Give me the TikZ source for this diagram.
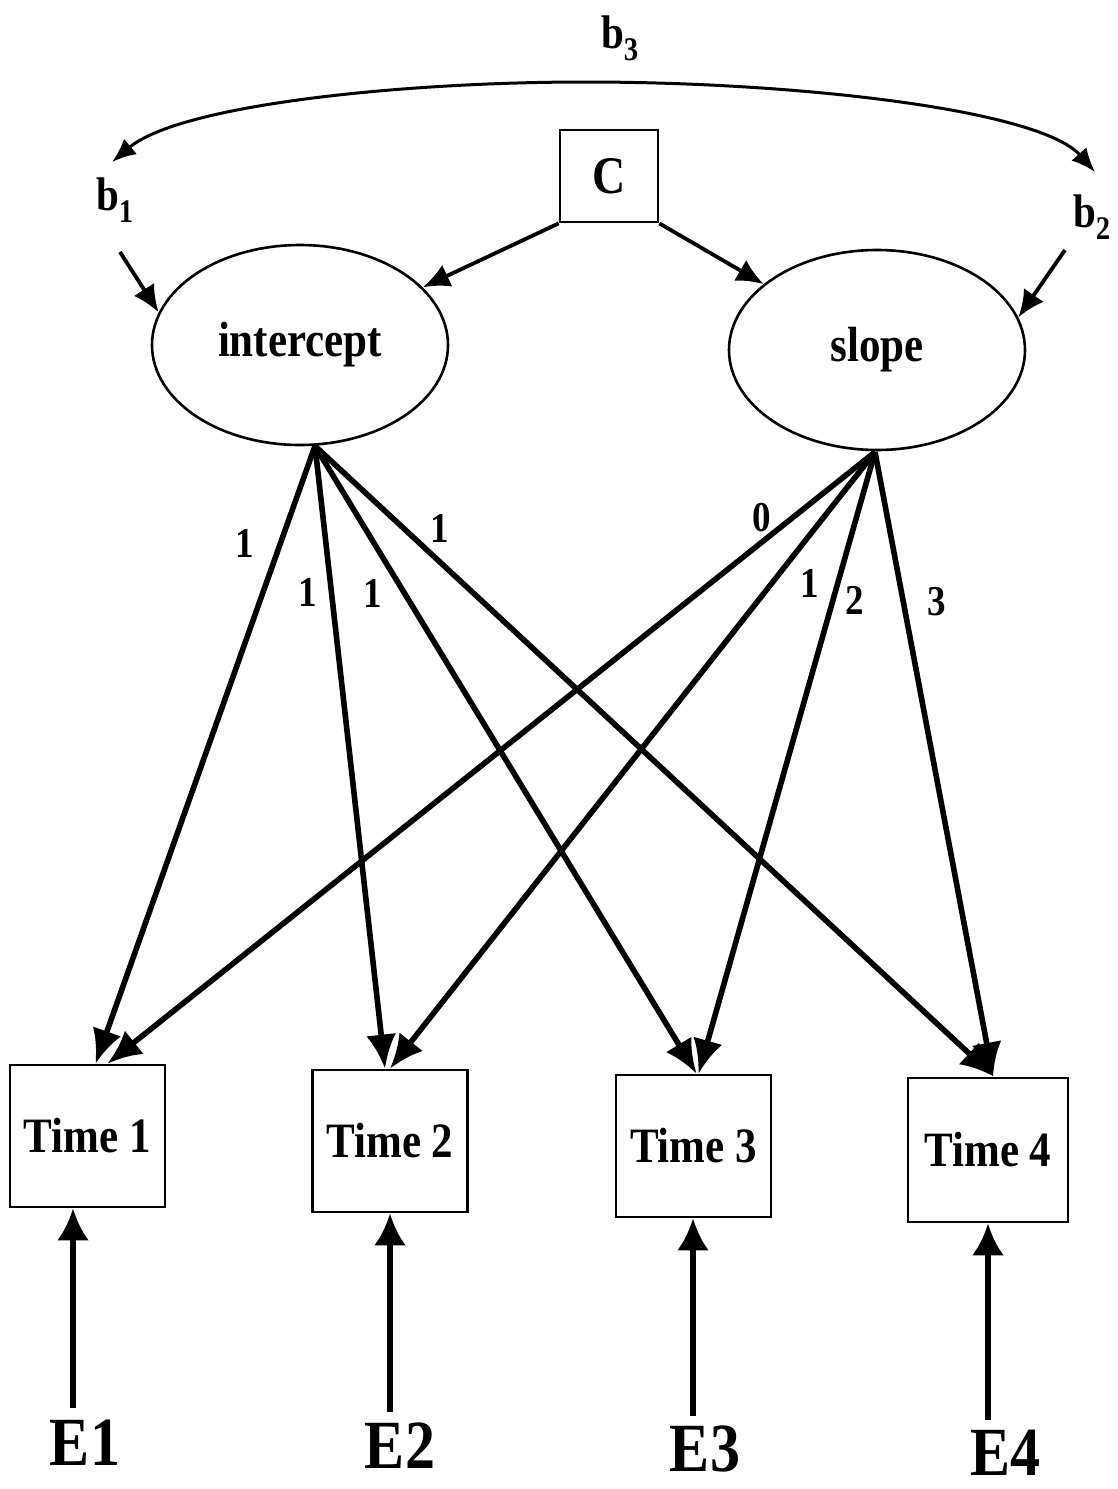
\documentclass[tikz,border=0pt]{standalone}
\usepackage{fontspec}
\setmainfont{Liberation Serif}
\usetikzlibrary{arrows.meta,shapes.geometric}
\newcommand{\vst}[1]{\scalebox{1}[1.15]{#1}}
\begin{document}
\begin{tikzpicture}[x=1pt,y=-1pt,
  lat/.style={ellipse,draw,line width=2.6pt,minimum width=296pt,minimum height=200pt,inner sep=0pt,
    font=\bfseries\fontsize{43}{43}\selectfont},
  obs/.style={rectangle,draw,line width=2.8pt,minimum width=155pt,minimum height=142pt,inner sep=0pt,
    font=\bfseries\fontsize{43}{43}\selectfont},
  pathar/.style={line width=5.6pt,-{Latex[length=34pt,width=30pt]}},
  erra/.style={line width=5.6pt,-{Latex[length=32pt,width=32pt]}},
  smallar/.style={line width=3.8pt,-{Latex[length=27pt,width=24pt]}},
  curvear/.style={line width=3pt,{Latex[length=24pt,width=20pt]}-{Latex[length=24pt,width=20pt]}},
  blbl/.style={font=\bfseries\fontsize{41}{41}\selectfont,inner sep=0pt},
  num/.style={font=\bfseries\fontsize{37}{37}\selectfont,inner sep=0pt},
  elbl/.style={font=\bfseries\fontsize{60}{60}\selectfont,inner sep=0pt}
]
\useasboundingbox (0,0) rectangle (1118,1489);

% latent variables
\node[lat] (int) at (300,345) {\vst{intercept}};
\node[lat] (slp) at (877,350) {\vst{slope}};
% covariate
\node[obs,minimum width=98pt,minimum height=92pt,font=\bfseries\fontsize{46}{46}\selectfont] (c) at (609,176) {\vst{C}};
% observed
\node[obs] (t1) at (87.5,1136) {\vst{Time 1}};
\node[obs] (t2) at (390,1141) {\vst{Time 2}};
\node[obs] (t3) at (693.5,1146) {\vst{Time 3}};
\node[obs,minimum width=160pt,minimum height=144pt] (t4) at (988,1150) {\vst{Time 4}};

% b labels
\node[blbl] (b3) at (620,38) {\vst{b\textsubscript{3}}};
\node[blbl] (b1) at (115,200) {\vst{b\textsubscript{1}}};
\node[blbl] (b2) at (1092,217) {\vst{b\textsubscript{2}}};

% error labels
\node[elbl] (e1) at (85,1443) {\vst{E1}};
\node[elbl] (e2) at (400,1446) {\vst{E2}};
\node[elbl] (e3) at (705,1449) {\vst{E3}};
\node[elbl] (e4) at (1005,1453) {\vst{E4}};

% covariance curve
\coordinate (cl) at (112,162);
\coordinate (ctop) at (585,82);
\coordinate (cr) at (1095,172);
\draw[curvear] (cl) .. controls (180,105) and (400,82) .. (ctop)
  .. controls (800,82) and (1040,110) .. (cr);

% b1, b2 arrows
\coordinate (b1s) at (120,252);
\coordinate (b2s) at (1065,250);
\draw[smallar] (b1s) -- (int.167);
\draw[smallar] (b2s) -- (slp.13);

% C arrows
\draw[smallar] (c.south west) -- (int);
\draw[smallar] (c.south east) -- (slp);

% loadings
\coordinate (ib) at (315,446);
\coordinate (sb) at (875,452);
\draw[pathar] (ib) -- ([xshift=8pt]t1.north);
\draw[pathar] (ib) -- ([xshift=-5pt]t2.north);
\draw[pathar] (ib) -- ([xshift=3pt]t3.north);
\draw[pathar] (ib) -- ([xshift=6pt]t4.north);
\draw[pathar] (sb) -- ([xshift=20pt]t1.north);
\draw[pathar] (sb) -- ([xshift=0pt]t2.north);
\draw[pathar] (sb) -- ([xshift=5pt]t3.north);
\draw[pathar] (sb) -- ([xshift=5pt]t4.north);

% loading labels
\node[num] (l1) at (245,543) {\vst{1}};
\node[num] (l2) at (308,592) {\vst{1}};
\node[num] (l3) at (373,593) {\vst{1}};
\node[num] (l4) at (440,528) {\vst{1}};
\node[num] (s0) at (762,518) {\vst{0}};
\node[num] (s1) at (810,583) {\vst{1}};
\node[num] (s2) at (855,600) {\vst{2}};
\node[num] (s3) at (937,602) {\vst{3}};

% error arrows
\coordinate (e1b) at (73,1408);
\coordinate (e2b) at (390,1412);
\coordinate (e3b) at (693,1416);
\coordinate (e4b) at (988,1420);
\draw[erra] (e1b) -- (e1b |- t1.south);
\draw[erra] (e2b) -- (e2b |- t2.south);
\draw[erra] (e3b) -- (e3b |- t3.south);
\draw[erra] (e4b) -- (e4b |- t4.south);
\end{tikzpicture}
\end{document}
